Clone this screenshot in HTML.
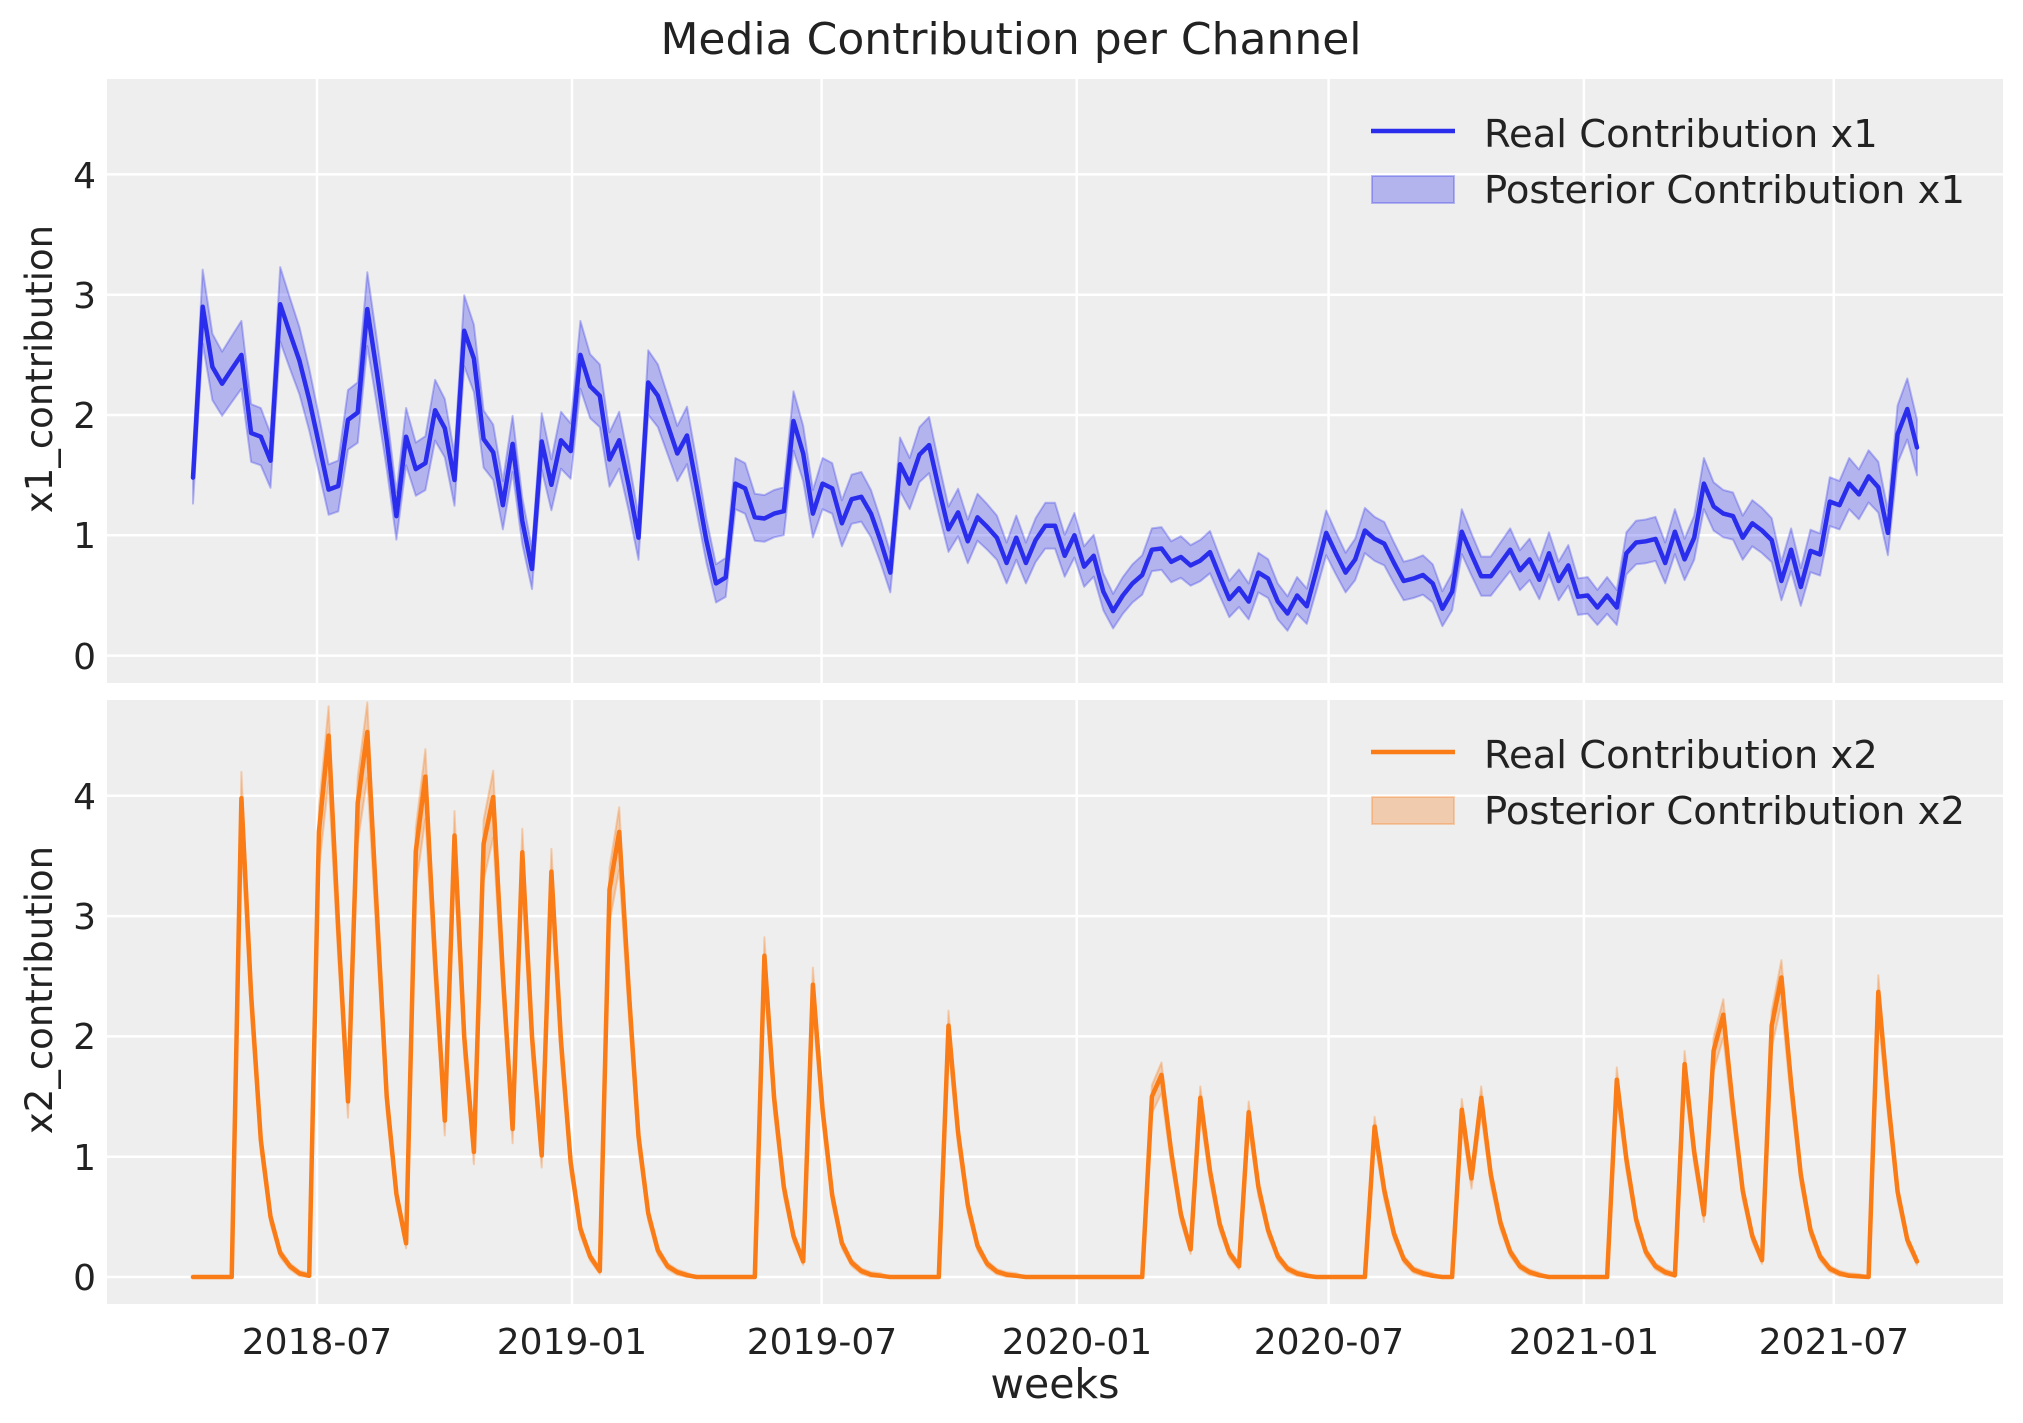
<!DOCTYPE html>
<html><head><meta charset="utf-8"><style>
html,body{margin:0;padding:0;background:#fff;}
svg{display:block;}
text{font-family:"DejaVu Sans","Liberation Sans",sans-serif;fill:#222;}
</style></head><body>
<svg id="s" width="2023" height="1423" viewBox="0 0 2023 1423" xmlns="http://www.w3.org/2000/svg">
<rect x="0" y="0" width="2023" height="1423" fill="#fff"/>
<rect x="107" y="79" width="1896" height="604" fill="#eeeeee"/>
<rect x="107" y="700" width="1896" height="604" fill="#eeeeee"/>
<g id="grid" stroke="#fff" stroke-width="2.5"></g>
<g id="series"></g>
<text x="1011" y="54" font-size="44" text-anchor="middle">Media Contribution per Channel</text>
<g font-size="36" text-anchor="end">
<text x="96" y="669">0</text><text x="96" y="548">1</text><text x="96" y="428">2</text><text x="96" y="308">3</text><text x="96" y="188">4</text>
<text x="96" y="1290">0</text><text x="96" y="1170">1</text><text x="96" y="1049">2</text><text x="96" y="929">3</text><text x="96" y="809">4</text>
</g>
<g font-size="36" text-anchor="middle">
<text x="317" y="1354">2018-07</text><text x="572" y="1354">2019-01</text><text x="822" y="1354">2019-07</text><text x="1077" y="1354">2020-01</text><text x="1329" y="1354">2020-07</text><text x="1584" y="1354">2021-01</text><text x="1834" y="1354">2021-07</text>
</g>
<text x="1055" y="1398" font-size="41" text-anchor="middle">weeks</text>
<text transform="translate(52,369) rotate(-90)" font-size="37" text-anchor="middle">x1_contribution</text>
<text transform="translate(52,990) rotate(-90)" font-size="37" text-anchor="middle">x2_contribution</text>
<line x1="1371" y1="131" x2="1455" y2="131" stroke="#2a2eec" stroke-width="4.5"/>
<rect x="1372" y="176" width="82" height="27" fill="rgba(42,46,236,0.3)" stroke="rgba(42,46,236,0.3)" stroke-width="2"/>
<text x="1484" y="147" font-size="38.5">Real Contribution x1</text>
<text x="1484" y="203" font-size="38.5">Posterior Contribution x1</text>
<line x1="1371" y1="752" x2="1455" y2="752" stroke="#fa7c17" stroke-width="4.5"/>
<rect x="1372" y="797" width="82" height="27" fill="rgba(250,124,23,0.3)" stroke="rgba(250,124,23,0.3)" stroke-width="2"/>
<text x="1484" y="768" font-size="38.5">Real Contribution x2</text>
<text x="1484" y="824" font-size="38.5">Posterior Contribution x2</text>
</svg>
<script>
(function(){
var NS="http://www.w3.org/2000/svg";
var g=document.getElementById("grid"), se=document.getElementById("series");
function el(p,t,a){var e=document.createElementNS(NS,t);for(var k in a)e.setAttribute(k,a[k]);p.appendChild(e);return e;}
var vx=[317,572,821.6,1076.7,1328.6,1583.9,1833.8];
[[79,683,655.6],[700,1304,1277]].forEach(function(ax){
  vx.forEach(function(x){el(g,"line",{x1:x,y1:ax[0],x2:x,y2:ax[1]});});
  for(var v=0;v<=4;v++){var y=ax[2]-120.3*v;el(g,"line",{x1:107,y1:y,x2:2003,y2:y});}
});
var x1=[1.48,2.90,2.40,2.26,2.38,2.50,1.85,1.82,1.62,2.92,2.68,2.45,2.13,1.76,1.38,1.41,1.96,2.02,2.88,2.35,1.79,1.16,1.82,1.55,1.60,2.04,1.89,1.46,2.70,2.47,1.80,1.69,1.25,1.76,1.12,0.72,1.78,1.42,1.79,1.70,2.50,2.24,2.16,1.63,1.79,1.41,0.98,2.27,2.16,1.92,1.68,1.83,1.41,0.96,0.60,0.65,1.43,1.39,1.15,1.14,1.18,1.20,1.95,
1.68,1.18,1.43,1.39,1.10,1.30,1.32,1.18,0.95,0.69,1.59,1.43,1.67,1.75,1.39,1.05,1.19,0.95,1.15,1.07,0.98,0.77,0.98,0.77,0.96,1.08,1.08,0.83,1.00,0.74,0.83,0.53,0.37,0.50,0.60,0.67,0.88,0.89,0.78,0.82,0.75,0.79,0.86,0.66,0.47,0.56,0.45,0.69,0.64,0.45,0.35,0.50,0.41,0.71,1.02,0.85,0.69,0.80,1.04,0.97,0.93,0.77,0.62,
0.64,0.67,0.60,0.39,0.53,1.03,0.84,0.66,0.66,0.77,0.88,0.71,0.80,0.63,0.85,0.62,0.75,0.49,0.50,0.40,0.50,0.40,0.85,0.94,0.95,0.97,0.77,1.03,0.80,0.98,1.43,1.24,1.18,1.16,0.98,1.10,1.04,0.96,0.62,0.88,0.57,0.87,0.84,1.28,1.25,1.43,1.34,1.49,1.40,1.02,1.84,2.05,1.73];
function z(n){var a=[];for(var i=0;i<n;i++)a.push(0);return a;}
var x2=[].concat(z(5),[3.98,2.35,1.14,0.50,0.20,0.09,0.03,0.01],
[3.70,4.50,2.89,1.46,3.94,4.53,3.02,1.50,0.69,0.28],
[3.54,4.16,2.63,1.30,3.67,2.00,1.04,3.60,3.99,2.51],
[1.23,3.53,2.00,1.01,3.37,1.96,0.95,0.40,0.17,0.05],
[3.22,3.70,2.38,1.17,0.53,0.22,0.09,0.04,0.015],z(7),
[2.67,1.49,0.75,0.34],[0.13,2.43,1.39,0.68,0.28,0.12,0.05,0.02,0.01],z(6),
[2.09,1.20,0.60,0.26,0.11,0.045,0.02,0.01],z(13),
[1.50,1.68,1.04,0.52,0.23,1.49,0.88,0.44,0.20,0.09],[1.37,0.75,0.39,0.17,0.07,0.03,0.01],z(6),
[1.25,0.72,0.36,0.15],[0.06,0.03,0.01,0,0],[1.39,0.82,1.49,0.85,0.45,0.21,0.09,0.04,0.015],z(7),
[1.64,0.98,0.48,0.21,0.09,0.04,0.015,1.77,1.04,0.52,1.88,2.18,1.41,0.72,0.34,0.14,2.09,2.49,1.61,0.85,0.39,0.17,0.07,0.03,0.01,0.005,0,2.37,1.49,0.71,0.31,0.13]);
function X(i){return 193+i*9.6854;}
function draw(d,y0,col,fill,lo,hi){
  var up=[],dn=[],ln=[];
  for(var i=0;i<d.length;i++){
    var x=X(i).toFixed(1);
    up.push(x+","+(y0-120.3*hi(d[i])).toFixed(1));
    dn.unshift(x+","+(y0-120.3*lo(d[i])).toFixed(1));
    ln.push(x+","+(y0-120.3*d[i]).toFixed(1));
  }
  el(se,"polygon",{points:up.concat(dn).join(" "),fill:fill,stroke:fill,"stroke-width":2,"stroke-linejoin":"round"});
  el(se,"polyline",{points:ln.join(" "),fill:"none",stroke:col,"stroke-width":4.5,"stroke-linejoin":"round","stroke-linecap":"round"});
}
draw(x1,655.6,"#2a2eec","rgba(42,46,236,0.3)",function(v){return v-(0.12+0.065*v);},function(v){return v+(0.12+0.065*v);});
draw(x2,1277,"#fa7c17","rgba(250,124,23,0.3)",function(v){return v>0.004?Math.max(0,v-0.02-0.08*v):0;},function(v){return v>0.004?v+0.02+0.05*v:0;});
})();
</script>
</body></html>
